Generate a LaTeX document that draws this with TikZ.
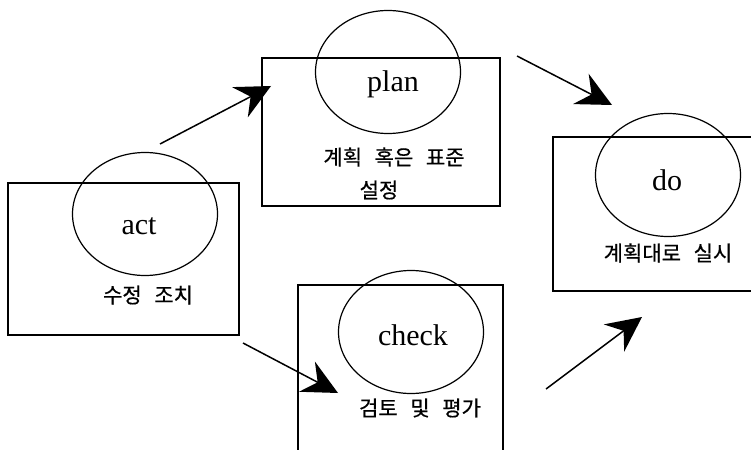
\documentclass[tikz,border=0pt]{standalone}
\usepackage{fontspec}
\setmainfont{Liberation Serif}
\newfontfamily\krfont[FakeBold=0.6]{Noto Sans CJK KR}
\usetikzlibrary{arrows.meta,shapes.geometric}
\tikzset{
  box/.style={draw, rectangle, line width=1.8pt, inner sep=0pt},
  ring/.style={draw, ellipse, line width=1.2pt, minimum width=145pt, minimum height=123pt, inner sep=0pt},
  lbl/.style={font=\fontsize{30}{33}\selectfont, inner sep=0pt},
  kor/.style={font=\krfont\fontsize{21}{25}\selectfont, inner sep=0pt},
  flow/.style={line width=1.5pt, -{Stealth[length=35pt,width=34pt,inset=12pt]}}
}
\begin{document}
\begin{tikzpicture}[x=1pt,y=-1pt]
\useasboundingbox (0,0) rectangle (751,449);
\clip (0,0) rectangle (751,449);
% boxes
\node[box, minimum width=231pt, minimum height=152pt] (actbox) at (123.5,259) {};
\node[box, minimum width=238pt, minimum height=148pt] (planbox) at (381,132) {};
\node[box, minimum width=227pt, minimum height=154pt] (dobox) at (666.5,214) {};
\node[box, minimum width=205pt, minimum height=185pt] (checkbox) at (400.5,377.5) {};
% ellipses
\node[ring] (actring) at (145,214) {};
\node[ring] (planring) at (388,72) {};
\node[ring] (doring) at (668,175) {};
\node[ring] (checkring) at (411,332) {};
% labels
\node[lbl] (acttext) at (139,226) {act};
\node[lbl] (plantext) at (393,84) {plan};
\node[lbl] (dotext) at (667,180) {do};
\node[lbl] (checktext) at (413,335) {check};
\node[kor] (actkr) at (148,295) {수정\hspace{0.6em}조치};
\node[kor] (plankr1) at (394,157) {계획\hspace{0.6em}혹은\hspace{0.6em}표준};
\node[kor] (plankr2) at (379,190) {설정};
\node[kor] (dokr) at (668,253) {계획대로\hspace{0.6em}실시};
\node[kor] (checkkr) at (420,408) {검토\hspace{0.6em}및\hspace{0.6em}평가};
% arrow end points
\coordinate (a1s) at (160,144); \coordinate (a1e) at (271,86);
\coordinate (a2s) at (517,56);  \coordinate (a2e) at (612,105);
\coordinate (a3s) at (243,343); \coordinate (a3e) at (338,393);
\coordinate (a4s) at (546,389); \coordinate (a4e) at (642,317);
\draw[flow] (a1s) -- (a1e);
\draw[flow] (a2s) -- (a2e);
\draw[flow] (a3s) -- (a3e);
\draw[flow] (a4s) -- (a4e);
\end{tikzpicture}
\end{document}
